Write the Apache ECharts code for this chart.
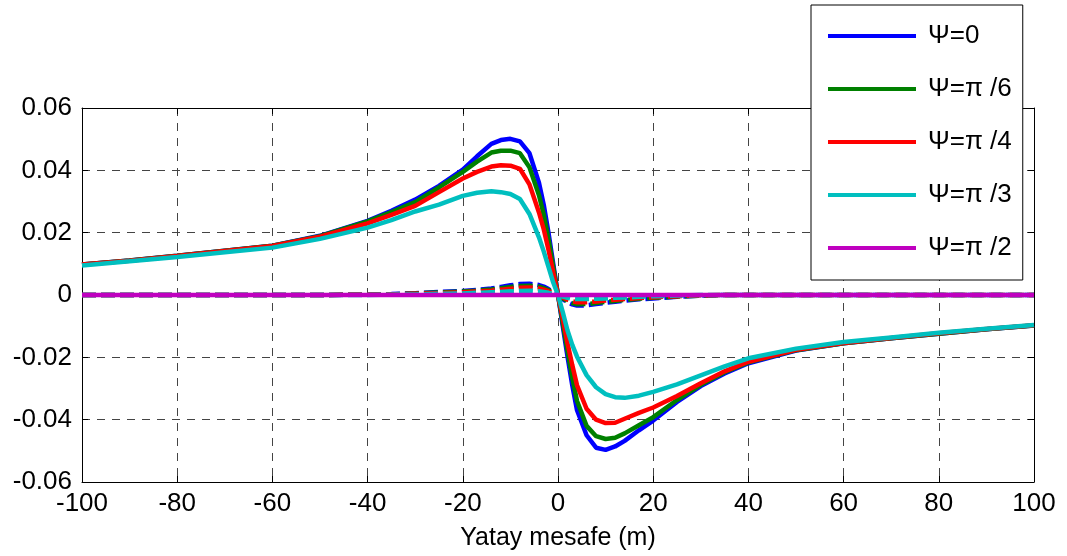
<!DOCTYPE html>
<html>
<head>
<meta charset="utf-8">
<script src="https://cdn.jsdelivr.net/npm/echarts@6/dist/echarts.min.js"></script>
<style>
html,body{margin:0;padding:0;background:#fff;}
#chart{width:1067px;height:556px;}
</style>
</head>
<body>
<div id="chart"></div>
<script>
// x positions (m)
const xs = [-100,-90,-80,-70,-60,-50,-40,-35,-30,-25,-20,-17,-14,-12,-10,-8,-6,-4,-3,-2,-1,0,1,2,3,4,6,8,10,12,14,17,20,25,30,35,40,50,60,70,80,90,100];

// solid curves
const psi0 = [0.0098,0.0111,0.0126,0.0142,0.0158,0.0190,0.0238,0.0270,0.0306,0.0350,0.0402,0.0445,0.0485,0.0497,0.0501,0.0493,0.0455,0.0360,0.0290,0.0200,0.0100,0,
  -0.0100,-0.0198,-0.0290,-0.0370,-0.0450,-0.0490,-0.0497,-0.0486,-0.0468,-0.0434,-0.0403,-0.0343,-0.0292,-0.0252,-0.0219,-0.0178,-0.0155,-0.0139,-0.0124,-0.0110,-0.0098];
const psi6 = [0.0098,0.0111,0.0126,0.0142,0.0158,0.0189,0.0236,0.0266,0.0298,0.0345,0.0395,0.0428,0.0457,0.0463,0.0463,0.0455,0.0410,0.0320,0.0258,0.0180,0.0090,0,
  -0.0090,-0.0180,-0.0265,-0.0340,-0.0420,-0.0453,-0.0462,-0.0458,-0.0444,-0.0418,-0.0392,-0.0337,-0.0288,-0.0248,-0.0216,-0.0177,-0.0155,-0.0139,-0.0124,-0.0110,-0.0098];
const psi4 = [0.0098,0.0110,0.0125,0.0141,0.0157,0.0187,0.0230,0.0257,0.0286,0.0330,0.0374,0.0395,0.0412,0.0416,0.0415,0.0405,0.0355,0.0265,0.0211,0.0145,0.0072,0,
  -0.0075,-0.0155,-0.0225,-0.0290,-0.0365,-0.0400,-0.0411,-0.0410,-0.0397,-0.0378,-0.0361,-0.0324,-0.0283,-0.0245,-0.0214,-0.0176,-0.0154,-0.0138,-0.0123,-0.0109,-0.0097];
const psi3 = [0.0095,0.0108,0.0122,0.0137,0.0152,0.0180,0.0216,0.0240,0.0268,0.0290,0.0318,0.0328,0.0333,0.0330,0.0324,0.0308,0.0260,0.0185,0.0140,0.0090,0.0040,0,
  -0.0055,-0.0114,-0.0160,-0.0198,-0.0257,-0.0296,-0.0318,-0.0328,-0.0330,-0.0323,-0.0311,-0.0287,-0.0258,-0.0229,-0.0203,-0.0172,-0.0151,-0.0136,-0.0121,-0.0108,-0.0096];
const psi2 = [0,0,0,0,0,0,0,0,0,0,0,0,0,0,0,0,0,0,0,0,0,0,0,0,0,0,0,0,0,0,0,0,0,0,0,0,0,0,0,0,0,0,0];

// dashed curves
const psi0d = [0,0,0,0,0,0,0.0001,0.0003,0.0006,0.0010,0.0013,0.0016,0.0021,0.0026,0.0031,0.0035,0.0036,0.0032,0.0027,0.0019,0.0010,0,
  -0.0013,-0.0023,-0.0030,-0.0034,-0.0033,-0.0029,-0.0025,-0.0022,-0.0018,-0.0014,-0.0011,-0.0006,-0.0002,0,0,0,0,0,0,0,0];
const psi6d = [0,0,0,0,0,0,0.0001,0.0002,0.0005,0.0008,0.0011,0.0014,0.0018,0.0022,0.0026,0.0029,0.0030,0.0027,0.0022,0.0016,0.0008,0,
  -0.0011,-0.0020,-0.0026,-0.0030,-0.0029,-0.0026,-0.0022,-0.0019,-0.0016,-0.0012,-0.0009,-0.0005,-0.0002,0,0,0,0,0,0,0,0];
const psi4d = [0,0,0,0,0,0,0.0001,0.0002,0.0004,0.0006,0.0009,0.0011,0.0014,0.0017,0.0020,0.0023,0.0024,0.0021,0.0017,0.0012,0.0006,0,
  -0.0008,-0.0015,-0.0020,-0.0023,-0.0023,-0.0021,-0.0018,-0.0015,-0.0013,-0.0010,-0.0007,-0.0004,-0.0001,0,0,0,0,0,0,0,0];
const psi3d = [0,0,0,0,0,0,0,0.0001,0.0002,0.0004,0.0005,0.0007,0.0009,0.0010,0.0012,0.0013,0.0014,0.0012,0.0010,0.0007,0.0003,0,
  -0.0005,-0.0009,-0.0012,-0.0013,-0.0013,-0.0012,-0.0011,-0.0009,-0.0008,-0.0006,-0.0004,-0.0002,0,0,0,0,0,0,0,0,0];

const names = ['Ψ=0','Ψ=π /6','Ψ=π /4','Ψ=π /3','Ψ=π /2'];
const colors = ['#0000ff','#008000','#ff0000','#00bfbf','#bf00bf'];
const solid = [psi0, psi6, psi4, psi3, psi2];
const dashed = [psi0d, psi6d, psi4d, psi3d];

const FONT = '"Liberation Sans", Arial, Helvetica, sans-serif';
const zip = arr => xs.map((x, i) => [x, arr[i]]);

const series = [];
dashed.forEach((arr, i) => {
  series.push({
    name: 'dashed' + i, type: 'line', data: zip(arr), showSymbol: false, silent: true,
    lineStyle: { color: colors[i], width: 4.5, type: [14, 5] }, itemStyle: { color: colors[i] }
  });
});
solid.forEach((arr, i) => {
  series.push({
    name: names[i], type: 'line', data: zip(arr), showSymbol: false,
    lineStyle: { color: colors[i], width: 4.5 }, itemStyle: { color: colors[i] }
  });
});

const yFmt = v => Math.abs(v) < 1e-9 ? '0' : v.toFixed(2);
const gridDash = { show: true, lineStyle: { color: '#444', width: 1, type: [8, 7] } };

const chart = echarts.init(document.getElementById('chart'), null, { renderer: 'canvas' });
chart.setOption({
  animation: false,
  backgroundColor: '#fff',
  textStyle: { fontFamily: FONT },
  grid: { left: 82, right: 33, top: 108, bottom: 68, containLabel: false },
  legend: {
    data: names,
    orient: 'vertical',
    left: 811, top: 5,
    icon: 'rect', itemWidth: 88, itemHeight: 4, itemGap: 23,
    padding: [16, 11, 17, 17],
    backgroundColor: '#fff', borderColor: '#000', borderWidth: 1,
    textStyle: { fontFamily: FONT, fontSize: 26, color: '#000', lineHeight: 30, padding: [0, 0, 0, 7] }
  },
  xAxis: [{
    type: 'value', min: -100, max: 100, interval: 20, position: 'bottom',
    name: 'Yatay mesafe (m)', nameLocation: 'middle', nameGap: 44,
    nameTextStyle: { fontFamily: FONT, fontSize: 25, color: '#000' },
    axisLine: { show: true, onZero: false, lineStyle: { color: '#000', width: 1 } },
    axisTick: { show: true, inside: true, length: 6, lineStyle: { color: '#000' } },
    axisLabel: { fontFamily: FONT, fontSize: 26, color: '#000', margin: 9 },
    splitLine: gridDash
  }, {
    type: 'value', min: -100, max: 100, interval: 20, position: 'top',
    axisLine: { show: true, onZero: false, lineStyle: { color: '#000', width: 1 } },
    axisTick: { show: true, inside: true, length: 6, lineStyle: { color: '#000' } },
    axisLabel: { show: false }, splitLine: { show: false }
  }],
  yAxis: [{
    type: 'value', min: -0.06, max: 0.06, interval: 0.02, position: 'left',
    axisLine: { show: true, onZero: false, lineStyle: { color: '#000', width: 1 } },
    axisTick: { show: true, inside: true, length: 6, lineStyle: { color: '#000' } },
    axisLabel: { fontFamily: FONT, fontSize: 26, color: '#000', margin: 10, formatter: yFmt },
    splitLine: gridDash
  }, {
    type: 'value', min: -0.06, max: 0.06, interval: 0.02, position: 'right',
    axisLine: { show: true, onZero: false, lineStyle: { color: '#000', width: 1 } },
    axisTick: { show: true, inside: true, length: 6, lineStyle: { color: '#000' } },
    axisLabel: { show: false }, splitLine: { show: false }
  }],
  series: series
});
</script>
</body>
</html>
